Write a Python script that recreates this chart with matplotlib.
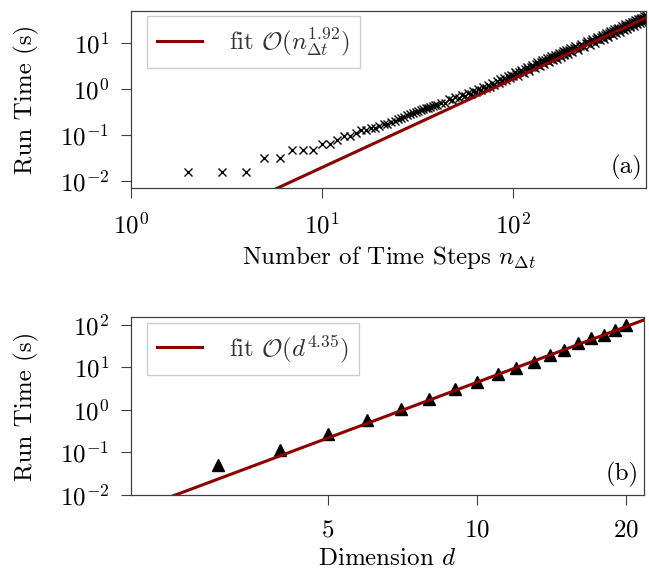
import numpy as np
import matplotlib.pyplot as plt
from matplotlib.ticker import NullLocator, FixedLocator, FixedFormatter, LogLocator

plt.rcParams.update({
    'font.family': 'serif',
    'font.serif': ['cmr10'],
    'mathtext.fontset': 'cm',
    'axes.formatter.use_mathtext': True,
    'font.size': 18,
})

# (a) run time vs number of time steps
n_steps = np.r_[np.arange(2, 41), np.arange(42, 101, 2), np.arange(102, 201, 2), np.arange(204, 501, 4)]
run_time_steps = [
    # n = 2 .. 40
    0.0156, 0.0156, 0.0156, 0.0313, 0.0313, 0.0469, 0.0469, 0.0469, 0.0625, 0.0625,
    0.078, 0.094, 0.094, 0.109, 0.125, 0.125, 0.141, 0.141, 0.156, 0.172,
    0.172, 0.188, 0.203, 0.219, 0.234, 0.250, 0.266, 0.281, 0.297, 0.313,
    0.328, 0.344, 0.359, 0.375, 0.391, 0.406, 0.422, 0.438, 0.453,
    # n = 42 .. 100
    0.50, 0.49, 0.59, 0.56, 0.66, 0.62, 0.75, 0.69, 0.83, 0.77,
    0.92, 0.85, 1.00, 0.93, 1.10, 1.02, 1.22, 1.12, 1.34, 1.22,
    1.47, 1.34, 1.60, 1.46, 1.75, 1.58, 1.90, 1.71, 2.05, 1.86,
    # n = 102 .. 200
    2.30, 2.06, 1.94, 2.36, 2.62, 2.35, 2.21, 2.69, 2.99, 2.67,
    2.50, 3.05, 3.37, 3.01, 2.80, 3.40, 3.76, 3.35, 3.12, 3.78,
    4.18, 3.72, 3.46, 4.18, 4.60, 4.09, 3.81, 4.61, 5.06, 4.47,
    4.15, 5.02, 5.53, 4.89, 4.51, 5.46, 6.01, 5.32, 4.91, 5.91,
    6.50, 5.75, 5.32, 6.40, 7.00, 6.19, 5.72, 6.88, 7.54, 6.63,
    # n = 204 .. 500
    6.25, 7.64, 8.51, 7.61, 7.15, 8.68, 9.67, 8.65, 8.10, 9.81,
    10.90, 9.75, 9.08, 11.00, 12.21, 10.88, 10.16, 12.29, 13.53, 12.03,
    11.26, 13.67, 15.05, 13.29, 12.41, 15.00, 16.58, 14.71, 13.62, 16.43,
    18.14, 16.04, 14.87, 17.99, 19.82, 17.40, 16.16, 19.55, 21.50, 19.01,
    17.60, 21.09, 23.12, 20.47, 18.92, 22.86, 25.09, 22.15, 20.50, 24.65,
    26.90, 23.73, 21.91, 26.33, 28.90, 25.49, 23.55, 28.33, 31.05, 27.35,
    25.31, 30.43, 33.26, 29.24, 27.02, 32.43, 35.46, 31.20, 28.79, 34.53,
    37.81, 33.23, 30.57, 36.65, 40.10,
]
fit_coef_steps = 2.35e-4
fit_exp_steps = 1.92

# (b) run time vs dimension
dims = np.arange(3, 21)
run_time_dims = [0.052, 0.115, 0.27, 0.58, 1.04, 1.8, 3.07, 4.6, 6.9, 9.6,
                 13.7, 19.0, 25.8, 37.0, 48.6, 58.0, 76.0, 100.0]
fit_coef_dims = 2.0e-4
fit_exp_dims = 4.35
dim_ticks = [5, 10, 20]
dim_tick_labels = ['$5$', '$10$', '$20$']

fit_color = '#8b0000'
spine_color = '0.25'

fig = plt.figure(figsize=(6.49, 5.72), dpi=100)
ax1 = fig.add_axes([0.2018, 0.6708, 0.7943, 0.3105])
ax2 = fig.add_axes([0.2018, 0.1346, 0.7904, 0.3107])

# top panel
ax1.plot(n_steps, run_time_steps, 'x', color='k', ms=5.5, mew=1.0, zorder=2)
n_fit = np.geomspace(1, 500, 200)
ax1.plot(n_fit, fit_coef_steps * n_fit ** fit_exp_steps, color=fit_color, lw=2.2, zorder=3,
         label=r'fit $\mathcal{O}(n_{\Delta t}^{1.92})$')
ax1.set_xscale('log')
ax1.set_yscale('log')
ax1.set_xlim(1, 500)
ax1.set_ylim(0.0069, 50)
ax1.set_xlabel(r'Number of Time Steps $n_{\Delta t}$')
ax1.set_ylabel('Run Time (s)')
ax1.text(0.993, 0.047, '(a)', transform=ax1.transAxes, ha='right', va='bottom')

# bottom panel
ax2.plot(dims, run_time_dims, '^', color='k', ms=9, zorder=2)
d_fit = np.geomspace(2, 22, 100)
ax2.plot(d_fit, fit_coef_dims * d_fit ** fit_exp_dims, color=fit_color, lw=2.2, zorder=3,
         label=r'fit $\mathcal{O}(d^{4.35})$')
ax2.set_xscale('log')
ax2.set_yscale('log')
ax2.set_xlim(2, 21.7)
ax2.set_ylim(0.01, 150)
ax2.xaxis.set_major_locator(FixedLocator(dim_ticks))
ax2.xaxis.set_major_formatter(FixedFormatter(dim_tick_labels))
ax2.set_xlabel(r'Dimension $d$')
ax2.set_ylabel('Run Time (s)')
ax2.text(0.99, 0.047, '(b)', transform=ax2.transAxes, ha='right', va='bottom')

for ax in (ax1, ax2):
    ax.yaxis.set_major_locator(LogLocator(base=10, numticks=12))
    ax.xaxis.set_minor_locator(NullLocator())
    ax.yaxis.set_minor_locator(NullLocator())
    ax.tick_params(axis='both', which='major', direction='out', length=7.5, width=0.8,
                   color=spine_color)
    ax.tick_params(axis='x', pad=10)
    ax.tick_params(axis='y', pad=8)
    for s in ax.spines.values():
        s.set_color(spine_color)
        s.set_linewidth(0.9)
    ax.legend(loc='upper left', bbox_to_anchor=(0.031, 0.97), borderaxespad=0,
              borderpad=0.4, fancybox=False, edgecolor='0.8', framealpha=1,
              handlelength=1.8, handletextpad=1.1, labelcolor='0.2')

ax1.yaxis.set_label_coords(-0.1785, 0.5)
ax2.yaxis.set_label_coords(-0.179, 0.5)
ax1.xaxis.set_label_coords(0.5, -0.314)
ax2.xaxis.set_label_coords(0.5, -0.30)

fig.savefig('out.png', dpi=100)
